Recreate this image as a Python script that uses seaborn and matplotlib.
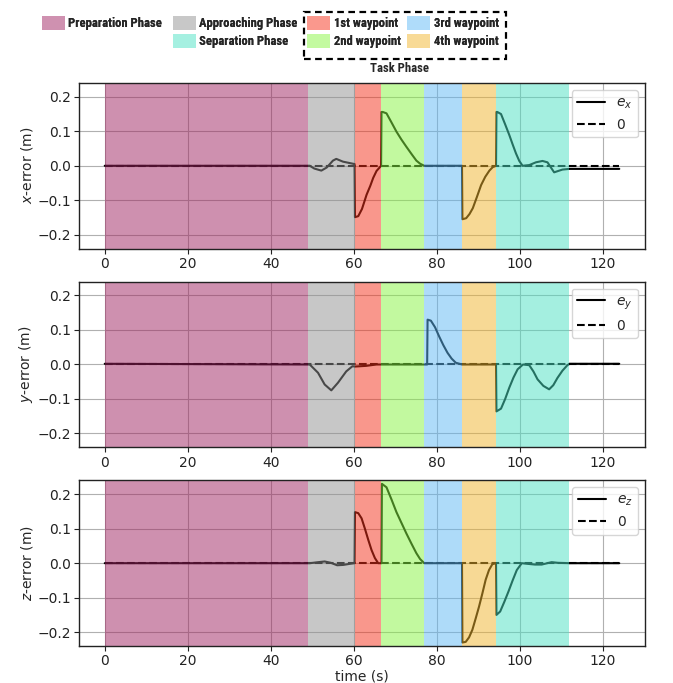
import matplotlib
matplotlib.use("Agg")
import numpy as np
import pandas as pd
import seaborn as sns
import matplotlib.pyplot as plt
from matplotlib.patches import Patch, Rectangle
from matplotlib import font_manager
from matplotlib.colors import to_rgb

# ---------------- data ----------------
t_x = [0, 49.4, 50.5, 52.2, 53.5, 55.0, 55.8, 57.4, 60.2, 60.3, 61.1, 62.0, 63.1, 64.0, 64.7, 65.5, 66.6,
       66.7, 67.0, 67.9, 69.0, 70.3, 71.5, 72.7, 74.0, 75.1, 76.0, 77.0, 86.1,
       86.2, 87.1, 87.9, 88.7, 89.7, 90.7, 91.7, 92.7, 93.5, 94.3,
       94.4, 94.6, 95.5, 96.5, 97.5, 98.3, 99.1, 99.9, 100.7, 102.3, 103.9, 105.5, 106.7, 108.3, 110.3, 112.0, 124]
e_x = [0, 0, -0.008, -0.014, -0.005, 0.015, 0.02, 0.012, 0.005, -0.149, -0.146, -0.125, -0.084, -0.058, -0.035, -0.015, 0,
       0.156, 0.156, 0.152, 0.128, 0.099, 0.076, 0.055, 0.033, 0.015, 0.006, 0, 0,
       -0.155, -0.152, -0.14, -0.123, -0.09, -0.056, -0.032, -0.014, -0.004, 0,
       0.156, 0.156, 0.15, 0.12, 0.089, 0.062, 0.036, 0.014, 0, 0.002, 0.01, 0.014, 0.01, -0.019, -0.011, -0.009, -0.009]

t_y = [0, 49.4, 51.4, 53.0, 54.6, 56.2, 58.2, 59.7, 60.3, 63.0, 65.5, 77.7,
       77.8, 78.6, 79.6, 80.6, 81.6, 82.6, 83.6, 84.6, 86.1, 94.3,
       94.4, 95.5, 96.5, 97.5, 98.5, 99.5, 100.8, 102.3, 103.3, 104.3, 105.7, 107.1, 108.1, 109.1, 110.3, 111.5, 112.0, 124]
e_y = [0.002, 0, -0.024, -0.058, -0.075, -0.053, -0.02, -0.005, -0.006, -0.004, 0, 0,
       0.13, 0.127, 0.108, 0.081, 0.056, 0.034, 0.017, 0.005, 0, 0,
       -0.136, -0.128, -0.1, -0.067, -0.038, -0.014, 0, -0.002, -0.02, -0.043, -0.062, -0.072, -0.06, -0.039, -0.018, -0.002, 0.002, 0.002]

t_z = [0, 49.4, 51.5, 53.0, 54.5, 56.0, 57.5, 59.0, 60.2,
       60.3, 61.1, 61.9, 62.7, 63.5, 64.3, 65.1, 65.9, 66.7,
       66.8, 67.9, 69.1, 70.3, 71.5, 72.7, 73.9, 75.1, 76.0, 77.0, 86.1,
       86.2, 87.0, 87.8, 88.6, 89.4, 90.2, 91.0, 91.8, 92.6, 93.4, 94.3,
       94.4, 95.3, 96.3, 97.3, 98.3, 99.3, 100.5, 102.0, 103.7, 105.3, 107.7, 109.3, 112.0, 124]
e_z = [0, 0, 0.003, 0.005, 0.001, -0.006, -0.005, -0.002, 0,
       0.148, 0.145, 0.13, 0.1, 0.068, 0.038, 0.015, 0, 0,
       0.23, 0.22, 0.185, 0.148, 0.117, 0.086, 0.057, 0.029, 0.012, 0, 0,
       -0.23, -0.228, -0.215, -0.193, -0.16, -0.126, -0.088, -0.048, -0.02, -0.003, 0,
       -0.15, -0.14, -0.112, -0.082, -0.05, -0.02, 0, -0.002, -0.004, -0.004, 0.003, 0.001, 0, 0]

t_zero = [0, 124]
v_zero = [0, 0]

phase_names = ["Preparation Phase", "Approaching Phase", "1st waypoint", "2nd waypoint",
               "3rd waypoint", "4th waypoint", "Separation Phase"]
phase_start = [0, 48.9, 60.3, 66.65, 76.9, 86.15, 94.3]
phase_end = [48.9, 60.3, 66.65, 76.9, 86.15, 94.3, 112.0]
phase_colors = ["#9f2360", "#919191", "#f5311a", "#87f541", "#5fb9f5", "#f1b52d", "#4be1c3"]

ylabels = ["$x$-error (m)", "$y$-error (m)", "$z$-error (m)"]
legend_labels = ["$e_x$", "$e_y$", "$e_z$"]
x_ticks = [0, 20, 40, 60, 80, 100, 120]
y_ticks = [-0.2, -0.1, 0.0, 0.1, 0.2]

# ---------------- style ----------------
sns.set_theme(style="ticks")
plt.rcParams.update({
    "font.family": ["DejaVu Sans"],
    "font.size": 10,
    "axes.labelsize": 10,
    "xtick.labelsize": 10,
    "ytick.labelsize": 10,
    "legend.fontsize": 10,
    "axes.edgecolor": "#222222",
    "axes.linewidth": 1.0,
    "xtick.color": "#222222",
    "ytick.color": "#222222",
    "xtick.major.size": 3.5,
    "ytick.major.size": 3.5,
    "xtick.major.width": 0.8,
    "ytick.major.width": 0.8,
    "xtick.major.pad": 2.5,
    "ytick.major.pad": 2.5,
})

avail = {f.name for f in font_manager.fontManager.ttflist}
leg_family, leg_stretch = "Liberation Sans", "normal"
for fam, st in [("Liberation Sans Narrow", "normal"), ("Roboto Condensed", "normal"),
                ("Arial Narrow", "normal"), ("Nimbus Sans Narrow", "normal"),
                ("Barlow Semi Condensed", "normal")]:
    if fam in avail:
        leg_family, leg_stretch = fam, st
        break

W, H = 673.0, 683.0
fig, axes = plt.subplots(3, 1, figsize=(W / 100, H / 100), dpi=100)
fig.subplots_adjust(left=0.1174, right=0.9584, top=0.8785, bottom=0.0542, hspace=0.2)

# font size for top legend so that text width matches the reference
renderer = fig.canvas.get_renderer()
probe = fig.text(0, 0, "Approaching Phase", family=leg_family, weight="bold", size=10)
w10 = probe.get_window_extent(renderer).width
probe.remove()
leg_size = min(9.5, 10 * 98.0 / w10)
fs_px = leg_size * 100 / 72

series = [(t_x, e_x), (t_y, e_y), (t_z, e_z)]
for ax, (tt, ee), yl, ll in zip(axes, series, ylabels, legend_labels):
    df = pd.DataFrame({"t": tt, "e": ee})
    dz = pd.DataFrame({"t": t_zero, "e": v_zero})
    sns.lineplot(data=df, x="t", y="e", ax=ax, color="black", lw=1.5,
                 estimator=None, sort=False, label=ll, zorder=2)
    sns.lineplot(data=dz, x="t", y="e", ax=ax, color="black", lw=1.5, ls="--",
                 estimator=None, sort=False, label="0", zorder=2)
    for s, e, c in zip(phase_start, phase_end, phase_colors):
        ax.axvspan(s, e, color=c, alpha=0.5, lw=0, zorder=2.5)
    ax.set_xlim(-6.2, 130.2)
    ax.set_ylim(-0.24, 0.24)
    ax.set_xticks(x_ticks)
    ax.set_yticks(y_ticks)
    ax.set_axisbelow(True)
    ax.grid(True, color="#b0b0b0", lw=0.8)
    ax.set_ylabel(yl, labelpad=1.5)
    ax.set_xlabel("")
    leg = ax.legend(loc="upper right", fancybox=True, framealpha=0.8)
    leg.set_zorder(5)
axes[2].set_xlabel("time (s)", labelpad=1)

# ---------------- top legends ----------------
def blend(c):
    r = np.array(to_rgb(c))
    return tuple(0.5 * r + 0.5)

handles = {n: Patch(facecolor=blend(c), lw=0) for n, c in zip(phase_names, phase_colors)}
fp = {"family": leg_family, "weight": "bold", "size": leg_size, "stretch": leg_stretch}
common = dict(loc="upper left", borderaxespad=0, borderpad=0, frameon=False,
              handlelength=23 / fs_px, handleheight=17 / fs_px,
              handletextpad=3.5 / fs_px, labelspacing=3.5 / fs_px, prop=fp)

def add_leg(names, x, y):
    lg = fig.legend([handles[n] for n in names], names,
                    bbox_to_anchor=(x / W, 1 - y / H), **common)
    fig.add_artist(lg)
    return lg

add_leg(["Preparation Phase"], 42, 16)
add_leg(["Approaching Phase", "Separation Phase"], 172.7, 16)
add_leg(["1st waypoint", "2nd waypoint"], 307, 16)
add_leg(["3rd waypoint", "4th waypoint"], 407, 16)
fig.patches.append(Rectangle((304 / W, 1 - 59 / H), 202 / W, 47 / H, transform=fig.transFigure,
                             fill=False, edgecolor="black", lw=1.6, ls=(0, (3, 2)), zorder=5))
fig.text(399 / W, 1 - 68.5 / H, "Task Phase", ha="center", va="center",
         family=leg_family, weight="bold", size=leg_size, stretch=leg_stretch)

fig.savefig("out.png", dpi=100)
